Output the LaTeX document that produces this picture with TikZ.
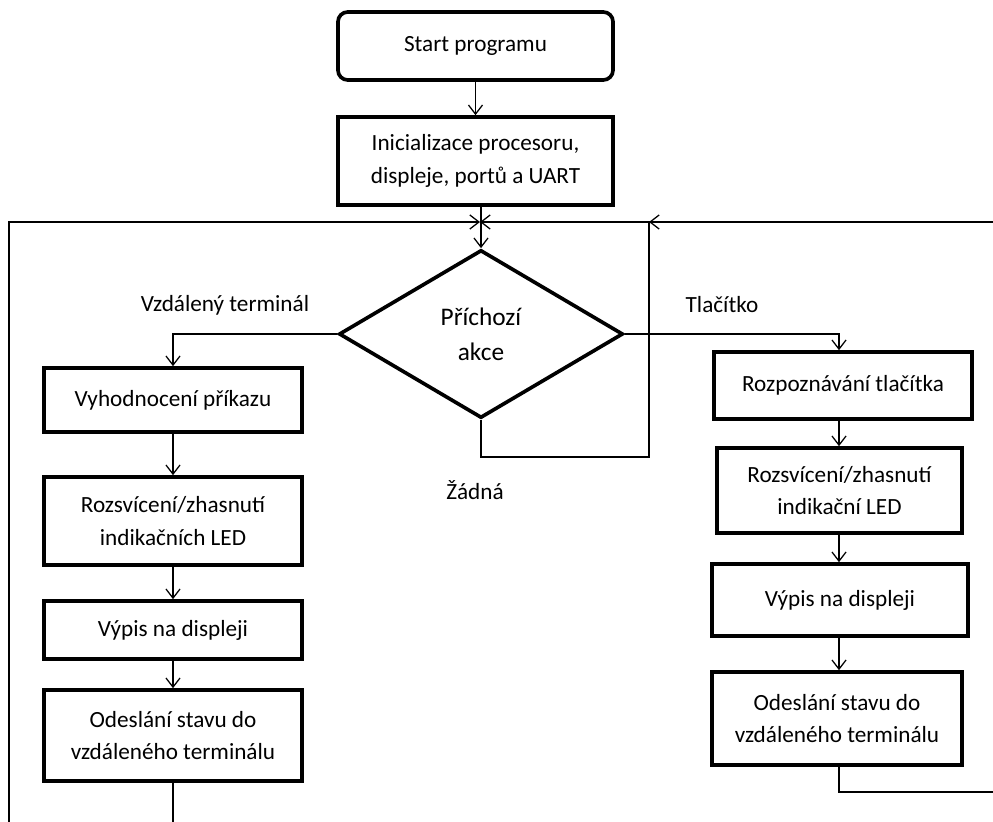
\documentclass[tikz,border=0pt]{standalone}
\usepackage{fontspec}
\setmainfont{Carlito}
\usetikzlibrary{shapes.geometric,arrows.meta}

\tikzset{
  krok/.style={draw, line width=2.6pt, align=center, inner sep=2pt,
    font=\fontsize{16.5}{23}\selectfont},
  startkrok/.style={krok, rounded corners=7pt},
  rozhod/.style={draw, diamond, line width=2.6pt, align=center, inner sep=0pt,
    font=\fontsize{18}{25}\selectfont},
  popis/.style={font=\fontsize{16.5}{23}\selectfont},
  spoj/.style={line width=0.9pt, -{Straight Barb[length=6.5pt,width=10pt,line width=0.9pt]}},
  cara/.style={line width=0.9pt}
}

\begin{document}
\begin{tikzpicture}[x=0.025cm,y=-0.025cm]
  \useasboundingbox (0,0) rectangle (993,822);

  % hlavni vetev
  \node[startkrok, minimum width=6.875cm, minimum height=1.7cm] (start) at (475.5,46) {Start programu};
  \node[krok, minimum width=6.875cm, minimum height=2.2cm] (init) at (475.5,161)
    {Inicializace procesoru,\\displeje, portů a UART};
  \node[rozhod, minimum width=7.1cm, minimum height=4.2cm] (akce) at (481,334) {Příchozí\\akce};

  % levy sloupec - terminal
  \node[krok, minimum width=6.45cm, minimum height=1.6cm] (prikaz) at (173,400) {Vyhodnocení příkazu};
  \node[krok, minimum width=6.45cm, minimum height=2.2cm] (ledT) at (173,521)
    {Rozsvícení/zhasnutí\\indikačních LED};
  \node[krok, minimum width=6.45cm, minimum height=1.45cm] (vypisT) at (173,630) {Výpis na displeji};
  \node[krok, minimum width=6.45cm, minimum height=2.275cm] (odeslT) at (173,735.5)
    {Odeslání stavu do\\vzdáleného terminálu};

  % pravy sloupec - tlacitko
  \node[krok, minimum width=6.45cm, minimum height=1.675cm] (tlac) at (843,385.5) {Rozpoznávání tlačítka};
  \node[krok, minimum width=6.125cm, minimum height=2.125cm] (ledB) at (839.5,490.5)
    {Rozsvícení/zhasnutí\\indikační LED};
  \node[krok, minimum width=6.4cm, minimum height=1.8cm] (vypisB) at (840,600) {Výpis na displeji};
  \node[krok, minimum width=6.25cm, minimum height=2.325cm] (odeslB) at (837,718.5)
    {Odeslání stavu do\\vzdáleného terminálu};

  % popisky vetvi
  \node[popis] (lterm) at (225,305) {Vzdálený terminál};
  \node[popis] (ltlac) at (722,305) {Tlačítko};
  \node[popis] (lzadna) at (475,490) {Žádná};

  % body smycek
  \coordinate (spoj) at (480,222);
  \coordinate (stred) at (649,222);
  \coordinate (zadna) at (649,457);
  \coordinate (inL) at (9,822);
  \coordinate (outL) at (173,822);
  \coordinate (inR) at (993,222);
  \coordinate (outR) at (993,792);

  \begin{scope}[spoj]
    \draw (start) -- (init);
    \draw (init.south -| akce.north) -- (akce.north);
    \draw (akce.west) -| (prikaz.north);
    \draw (akce.east) -| (tlac.north -| 839,0);
    \draw (prikaz) -- (ledT);
    \draw (ledT) -- (vypisT);
    \draw (vypisT) -- (odeslT);
    \draw (tlac.south -| 839,0) -- (ledB.north -| 839,0);
    \draw (ledB.south -| 839,0) -- (vypisB.north -| 839,0);
    \draw (vypisB.south -| 839,0) -- (odeslB.north -| 839,0);
    \draw (akce.south) |- (zadna) |- (spoj);
    \draw (inL) |- (spoj);
    \draw (inR) -- (stred);
  \end{scope}
  \begin{scope}[cara]
    \draw (odeslT) -- (outL);
    \draw (odeslB.south -| 839,0) |- (outR);
  \end{scope}
\end{tikzpicture}
\end{document}
